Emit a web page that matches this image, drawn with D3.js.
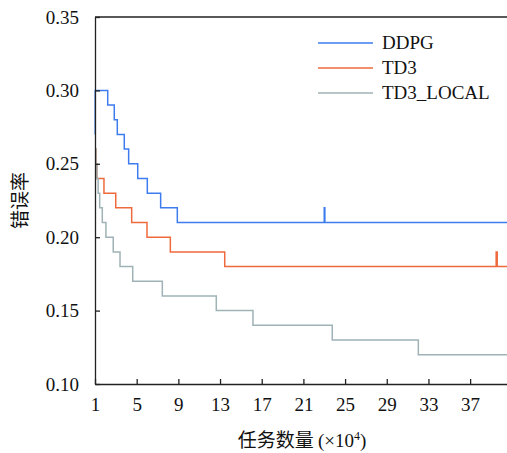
<!DOCTYPE html>
<html>
<head>
<meta charset="utf-8">
<script src="https://cdn.jsdelivr.net/npm/d3@7"></script>
<style>
  body { margin: 0; background: #fff; }
</style>
</head>
<body>
<div id="chart"></div>
<script>
// step curves: [task count (x10^4), error rate]
let ddpg = [[1, 0.27], [1.02, 0.30], [2.22, 0.29], [2.85, 0.28], [3.14, 0.27], [3.81, 0.26],
            [4.23, 0.25], [5.1, 0.24], [6.02, 0.23], [7.3, 0.22], [8.9, 0.21],
            [23.0, 0.22], [23.06, 0.21], [41, 0.21]];
let td3 = [[1, 0.26], [1.08, 0.25], [1.18, 0.24], [1.86, 0.23], [2.99, 0.22], [4.52, 0.21],
           [5.99, 0.20], [8.23, 0.19], [13.45, 0.18], [39.5, 0.19], [39.6, 0.18], [41, 0.18]];
let td3Local = [[1, 0.26], [1.08, 0.25], [1.18, 0.24], [1.3, 0.23], [1.45, 0.22], [1.7, 0.21],
                [2.05, 0.20], [2.75, 0.19], [3.4, 0.18], [4.62, 0.17], [7.46, 0.16],
                [12.64, 0.15], [16.16, 0.14], [23.77, 0.13], [32.03, 0.12], [41, 0.12]];

let seriesNames = ["DDPG", "TD3", "TD3_LOCAL"];
let seriesColors = ["#3d7cef", "#ee6a3d", "#9fb2b5"];
let xTicks = [1, 5, 9, 13, 17, 21, 25, 29, 33, 37];
let yTicks = [0.10, 0.15, 0.20, 0.25, 0.30, 0.35];

let serif = "'Liberation Serif', 'DejaVu Serif', serif";
let cjk = "'Noto Sans CJK SC', sans-serif";

let W = 507, H = 453;
let margin = {top: 17, left: 95, bottom: 69};
let plotH = H - margin.top - margin.bottom;

let x = d3.scaleLinear().domain([1, 41]).range([margin.left, margin.left + 40 * 10.42]);
let y = d3.scaleLinear().domain([0.10, 0.35]).range([margin.top + plotH, margin.top]);

let svg = d3.select("#chart").append("svg")
    .attr("width", W)
    .attr("height", H);

// data lines
let line = d3.line()
    .x(function(d) { return x(d[0]); })
    .y(function(d) { return y(d[1]); })
    .curve(d3.curveStepAfter);

[ddpg, td3, td3Local].forEach(function(s, i) {
    svg.append("path")
        .datum(s)
        .attr("fill", "none")
        .attr("stroke", seriesColors[i])
        .attr("stroke-width", 1.5)
        .attr("d", line);
});

// frame: top border
svg.append("line")
    .attr("x1", x(1)).attr("x2", W)
    .attr("y1", y(0.35)).attr("y2", y(0.35))
    .attr("stroke", "#222").attr("stroke-width", 1.3);

// y axis
let yAxis = svg.append("g")
    .attr("transform", "translate(" + margin.left + ",0)")
    .call(d3.axisLeft(y).tickValues(yTicks).tickFormat(d3.format(".2f"))
        .tickSizeInner(-5).tickSizeOuter(0).tickPadding(16));
yAxis.attr("font-family", serif).attr("font-size", 19);
yAxis.select(".domain").attr("stroke", "#222").attr("stroke-width", 1.3);
yAxis.selectAll(".tick line").attr("stroke", "#222").attr("stroke-width", 1.3);
yAxis.selectAll("text").attr("fill", "#111");

// x axis
let xAxis = svg.append("g")
    .attr("transform", "translate(0," + y(0.10) + ")")
    .call(d3.axisBottom(x).tickValues(xTicks).tickFormat(d3.format("d"))
        .tickSizeInner(-5).tickSizeOuter(0).tickPadding(14));
xAxis.attr("font-family", serif).attr("font-size", 19);
xAxis.select(".domain").attr("stroke", "#222").attr("stroke-width", 1.3);
xAxis.selectAll(".tick line").attr("stroke", "#222").attr("stroke-width", 1.3);
xAxis.selectAll("text").attr("fill", "#111");

// axis titles
let xt = svg.append("text")
    .attr("x", 302)
    .attr("y", 447)
    .attr("text-anchor", "middle")
    .attr("font-family", serif)
    .attr("font-size", 19)
    .attr("fill", "#111");
xt.append("tspan").attr("font-family", cjk).text("任务数量 ");
xt.append("tspan").text("(×10");
xt.append("tspan").attr("dy", -7).attr("font-size", 12).text("4");
xt.append("tspan").attr("dy", 7).text(")");

svg.append("text")
    .attr("transform", "translate(27," + (margin.top + plotH / 2) + ") rotate(-90)")
    .attr("text-anchor", "middle")
    .attr("font-family", cjk)
    .attr("font-size", 19)
    .attr("fill", "#111")
    .text("错误率");

// legend
seriesNames.forEach(function(name, i) {
    let ly = 43 + i * 25;
    svg.append("line")
        .attr("x1", 318).attr("x2", 373)
        .attr("y1", ly).attr("y2", ly)
        .attr("stroke", seriesColors[i])
        .attr("stroke-width", 1.5);
    svg.append("text")
        .attr("x", 382)
        .attr("y", ly + 6)
        .attr("font-family", serif)
        .attr("font-size", 19)
        .attr("fill", "#111")
        .text(name);
});
</script>
</body>
</html>
